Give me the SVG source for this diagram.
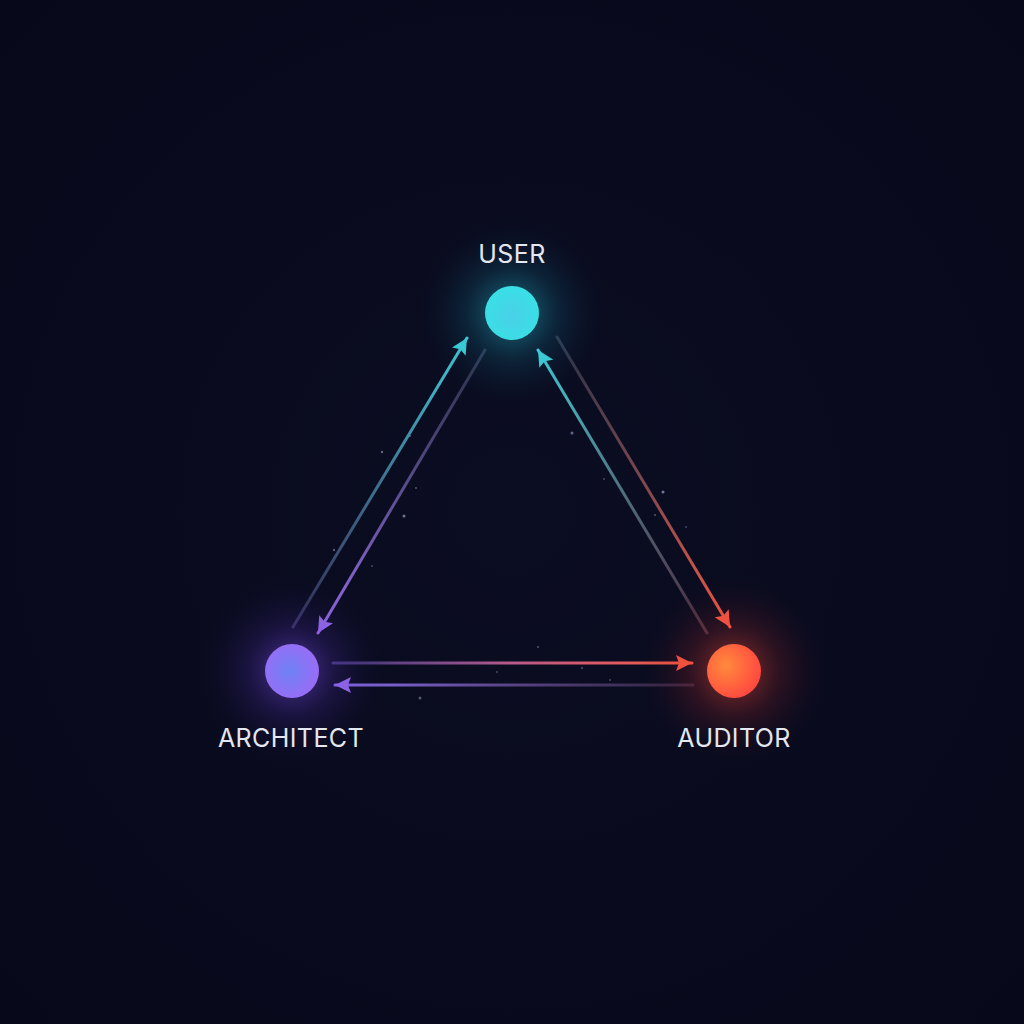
<svg xmlns="http://www.w3.org/2000/svg" width="1024" height="1024" viewBox="0 0 1024 1024">
<style>
.label{font-family:Inter,"Open Sans","Liberation Sans",sans-serif;font-size:25px;font-weight:400;fill:#e4e7f0;text-anchor:middle;letter-spacing:0.4px}
.conn{stroke-width:3;fill:none;stroke-linecap:round}
.dot{fill:#9aa3c8}
</style>
<defs>
<radialGradient id="bg" cx="50%" cy="50%" r="70%">
<stop offset="0" stop-color="#0b0d22"/>
<stop offset="1" stop-color="#07081a"/>
</radialGradient>
<radialGradient id="gUser" cx="50%" cy="50%" r="50%">
<stop offset="0" stop-color="#2fd6e6" stop-opacity="0.5"/>
<stop offset="0.45" stop-color="#1aa9c0" stop-opacity="0.16"/>
<stop offset="1" stop-color="#0a0b1f" stop-opacity="0"/>
</radialGradient>
<radialGradient id="gArch" cx="50%" cy="50%" r="50%">
<stop offset="0" stop-color="#8a5cff" stop-opacity="0.55"/>
<stop offset="0.45" stop-color="#5a34c0" stop-opacity="0.2"/>
<stop offset="1" stop-color="#0a0b1f" stop-opacity="0"/>
</radialGradient>
<radialGradient id="gAud" cx="50%" cy="50%" r="50%">
<stop offset="0" stop-color="#ff5a3a" stop-opacity="0.55"/>
<stop offset="0.45" stop-color="#c0302a" stop-opacity="0.2"/>
<stop offset="1" stop-color="#0a0b1f" stop-opacity="0"/>
</radialGradient>
<radialGradient id="fUser" cx="50%" cy="55%" r="55%">
<stop offset="0" stop-color="#4ad0e8"/>
<stop offset="1" stop-color="#38e0e6"/>
</radialGradient>
<radialGradient id="fArch" cx="45%" cy="50%" r="55%">
<stop offset="0" stop-color="#6e82f6"/>
<stop offset="1" stop-color="#9a6cf6"/>
</radialGradient>
<radialGradient id="fAud" cx="35%" cy="40%" r="65%">
<stop offset="0" stop-color="#ff8a3c"/>
<stop offset="1" stop-color="#ff4a40"/>
</radialGradient>
<linearGradient id="l1" gradientUnits="userSpaceOnUse" x1="293" y1="627" x2="467" y2="338">
<stop offset="0" stop-color="#6a6aa8" stop-opacity="0.4"/>
<stop offset="1" stop-color="#3fd3dc"/>
</linearGradient>
<linearGradient id="l2" gradientUnits="userSpaceOnUse" x1="485" y1="350" x2="318" y2="633">
<stop offset="0" stop-color="#5a6080" stop-opacity="0.45"/>
<stop offset="1" stop-color="#9a6cf0"/>
</linearGradient>
<linearGradient id="l3" gradientUnits="userSpaceOnUse" x1="707" y1="633" x2="538" y2="350">
<stop offset="0" stop-color="#8a5060" stop-opacity="0.5"/>
<stop offset="1" stop-color="#3fd3dc"/>
</linearGradient>
<linearGradient id="l4" gradientUnits="userSpaceOnUse" x1="557" y1="337" x2="730" y2="627">
<stop offset="0" stop-color="#5a6078" stop-opacity="0.45"/>
<stop offset="1" stop-color="#ff5a44"/>
</linearGradient>
<linearGradient id="l5" gradientUnits="userSpaceOnUse" x1="333" y1="663" x2="692" y2="663">
<stop offset="0" stop-color="#6a58c0" stop-opacity="0.55"/>
<stop offset="0.5" stop-color="#b85a8a"/>
<stop offset="1" stop-color="#ff5a40"/>
</linearGradient>
<linearGradient id="l6" gradientUnits="userSpaceOnUse" x1="693" y1="685" x2="335" y2="685">
<stop offset="0" stop-color="#6a4a70" stop-opacity="0.4"/>
<stop offset="1" stop-color="#8a6cf0"/>
</linearGradient>
<marker id="mCyan" markerUnits="userSpaceOnUse" markerWidth="18" markerHeight="16" refX="16" refY="8" orient="auto">
<path d="M0,0 L16,8 L0,16 L3,8 z" fill="#3fd3dc"/>
</marker>
<marker id="mPurple" markerUnits="userSpaceOnUse" markerWidth="18" markerHeight="16" refX="16" refY="8" orient="auto">
<path d="M0,0 L16,8 L0,16 L3,8 z" fill="#9a6cf0"/>
</marker>
<marker id="mRed" markerUnits="userSpaceOnUse" markerWidth="18" markerHeight="16" refX="16" refY="8" orient="auto">
<path d="M0,0 L16,8 L0,16 L3,8 z" fill="#ff5a44"/>
</marker>
</defs>
<rect width="1024" height="1024" fill="url(#bg)"/>

<g id="particles">
<circle class="dot" cx="382" cy="452" r="1.2" opacity="0.6"/>
<circle class="dot" cx="404" cy="516" r="1.5" opacity="0.7"/>
<circle class="dot" cx="334" cy="550" r="1.2" opacity="0.5"/>
<circle class="dot" cx="410" cy="436" r="1" opacity="0.5"/>
<circle class="dot" cx="416" cy="488" r="1" opacity="0.5"/>
<circle class="dot" cx="372" cy="566" r="1" opacity="0.4"/>
<circle class="dot" cx="572" cy="433" r="1.5" opacity="0.6"/>
<circle class="dot" cx="663" cy="492" r="1.5" fill="#e06a50" opacity="0.7"/>
<circle class="dot" cx="655" cy="515" r="1" opacity="0.5"/>
<circle class="dot" cx="604" cy="479" r="1" opacity="0.4"/>
<circle class="dot" cx="686" cy="527" r="1" opacity="0.4"/>
<circle class="dot" cx="420" cy="698" r="1.5" opacity="0.5"/>
<circle class="dot" cx="538" cy="647" r="1" opacity="0.5"/>
<circle class="dot" cx="582" cy="668" r="1" opacity="0.5"/>
<circle class="dot" cx="610" cy="680" r="1" opacity="0.4"/>
<circle class="dot" cx="497" cy="672" r="1" opacity="0.4"/>
</g>

<g id="connectors">
<line class="conn" x1="293" y1="627" x2="467" y2="338" stroke="url(#l1)" marker-end="url(#mCyan)"/>
<line class="conn" x1="485" y1="350" x2="318" y2="633" stroke="url(#l2)" marker-end="url(#mPurple)"/>
<line class="conn" x1="707" y1="633" x2="538" y2="350" stroke="url(#l3)" marker-end="url(#mCyan)"/>
<line class="conn" x1="557" y1="337" x2="730" y2="627" stroke="url(#l4)" marker-end="url(#mRed)"/>
<line class="conn" x1="333" y1="663" x2="692" y2="663" stroke="url(#l5)" marker-end="url(#mRed)"/>
<line class="conn" x1="693" y1="685" x2="335" y2="685" stroke="url(#l6)" marker-end="url(#mPurple)"/>
</g>

<g id="user">
<circle cx="512" cy="313" r="100" fill="url(#gUser)"/>
<circle cx="512" cy="313" r="27" fill="url(#fUser)"/>
<text class="label" x="512" y="263">USER</text>
</g>

<g id="architect">
<circle cx="292" cy="671" r="100" fill="url(#gArch)"/>
<circle cx="292" cy="671" r="27" fill="url(#fArch)"/>
<text class="label" x="291" y="747">ARCHITECT</text>
</g>

<g id="auditor">
<circle cx="734" cy="671" r="100" fill="url(#gAud)"/>
<circle cx="734" cy="671" r="27" fill="url(#fAud)"/>
<text class="label" x="734" y="747">AUDITOR</text>
</g>
</svg>
